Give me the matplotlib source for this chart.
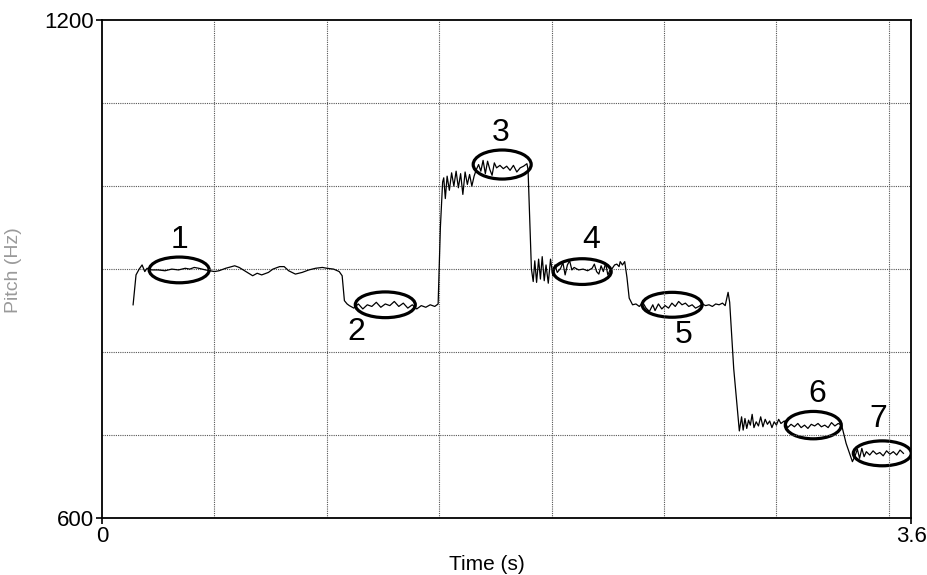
import matplotlib
matplotlib.use("Agg")
import matplotlib.pyplot as plt
from matplotlib.patches import Ellipse

plt.rcParams['font.family'] = ['Liberation Sans', 'DejaVu Sans']

# pitch track (time in s, pitch in Hz)
time = [0.138, 0.151, 0.165, 0.178, 0.19, 0.20, 0.22, 0.25, 0.28, 0.31, 0.34, 0.37, 0.39, 0.41, 0.43,
        0.46, 0.48, 0.50, 0.52, 0.55, 0.59, 0.61, 0.64, 0.67, 0.69, 0.71, 0.74, 0.76, 0.79, 0.81,
        0.83, 0.86, 0.89, 0.92, 0.95, 0.98, 1.00, 1.03, 1.055, 1.068, 1.078, 1.09,
        1.10, 1.12, 1.14, 1.16, 1.18, 1.20, 1.22, 1.24, 1.26, 1.28, 1.30, 1.32, 1.34, 1.36, 1.38,
        1.40, 1.42, 1.44, 1.46, 1.48, 1.495,
        1.505, 1.515, 1.52, 1.527, 1.535, 1.545, 1.555, 1.565, 1.575, 1.585, 1.595, 1.605, 1.615,
        1.625, 1.635, 1.645, 1.655,
        1.665, 1.675, 1.685, 1.695, 1.705, 1.715, 1.725, 1.735, 1.745, 1.755, 1.77, 1.785, 1.80,
        1.815, 1.83, 1.845, 1.86, 1.875, 1.89,
        1.895, 1.91, 1.918, 1.925, 1.933, 1.942, 1.950, 1.958, 1.967, 1.975, 1.985, 1.995, 2.005,
        2.015, 2.025,
        2.04, 2.05, 2.06, 2.07, 2.08, 2.09, 2.10, 2.12, 2.14, 2.16, 2.18, 2.19, 2.20, 2.21, 2.22,
        2.23, 2.24, 2.25, 2.26, 2.27, 2.28, 2.29, 2.30, 2.305, 2.315, 2.325, 2.335,
        2.345, 2.36,
        2.375, 2.39, 2.405, 2.42, 2.435, 2.45, 2.46, 2.475, 2.49, 2.505, 2.52, 2.535, 2.55, 2.565,
        2.58, 2.595, 2.61, 2.625, 2.64, 2.655, 2.67, 2.685, 2.70, 2.715, 2.73, 2.745, 2.76, 2.772,
        2.785, 2.792,
        2.81, 2.835,
        2.845, 2.852, 2.86, 2.868, 2.876, 2.884, 2.892, 2.90, 2.91, 2.92, 2.93, 2.94, 2.95, 2.96,
        2.97, 2.98, 2.99, 3.00, 3.01, 3.02,
        3.035, 3.05, 3.065, 3.08, 3.095, 3.11, 3.125, 3.14, 3.155, 3.17, 3.185, 3.20, 3.215, 3.23,
        3.245, 3.26, 3.275, 3.29,
        3.31, 3.338, 3.35, 3.36, 3.37,
        3.38, 3.39, 3.40, 3.415, 3.43, 3.445, 3.46, 3.475, 3.49, 3.505, 3.52, 3.535, 3.55, 3.565]
pitch = [857, 893, 900, 905, 897, 901, 899, 899, 898, 900, 899, 901, 900, 902, 901,
         899, 898, 897, 898, 901, 904, 902, 897, 892, 895, 893, 896, 900, 903, 903,
         898, 894, 896, 899, 901, 902, 901, 900, 897, 892, 862, 858,
         856, 853, 858, 852, 857, 855, 860, 854, 858, 856, 861, 855, 859, 853, 857,
         852, 856, 854, 857, 855, 858,
         950, 1005, 1010, 985, 1012, 995, 1016, 1000, 1018, 998, 1015, 990, 1017,
         1002, 1014, 1000, 1012,
         1020, 1026, 1018, 1031, 1015, 1030, 1020, 1013, 1028, 1022, 1025, 1021, 1024,
         1019, 1025, 1017, 1022, 1024, 1027,
         1020, 900, 885, 910, 884, 912, 888, 915, 886, 905, 883, 912, 892,
         905, 896,
         901, 908, 893, 905, 910, 899, 902, 899, 900, 898, 901, 906, 897, 894, 904,
         897, 907, 893, 899, 901, 905, 906, 903, 909, 905, 909, 890,
         865, 857,
         858, 855, 860, 853, 849, 857, 850, 858, 852, 856, 853, 859, 855, 861,
         857, 859, 855, 857, 853, 855, 858, 856, 857, 855, 858, 857, 859, 856,
         872, 860,
         780, 705,
         722, 706, 720, 708, 718, 712, 725, 709, 716, 711, 722, 710, 719, 713,
         717, 709, 716, 712, 719, 714,
         717, 709, 713, 710, 714, 709, 712, 708, 713, 711, 714, 710, 712, 709,
         715, 711, 714, 712,
         690, 668, 675, 683, 672,
         684, 674, 680, 676, 681, 677, 679, 675, 681, 677, 680, 676, 682, 678]

# marked regions: label, centre time, centre pitch, width (s), height (Hz)
marks = ['1', '2', '3', '4', '5', '6', '7']
mark_t = [0.343, 1.260, 1.780, 2.136, 2.536, 3.164, 3.471]
mark_f = [899, 857, 1026, 897, 857, 712, 678]
mark_w = [0.267, 0.267, 0.258, 0.258, 0.267, 0.249, 0.258]
mark_h = [31, 31, 35, 31, 30, 33, 30]
label_t = [0.343, 1.130, 1.771, 2.176, 2.586, 3.182, 3.453]
label_f = [935, 824, 1064, 935, 820, 749, 719]

x_grid = [0.5, 1.0, 1.5, 2.0, 2.5, 3.0, 3.5]
y_grid = [700, 800, 900, 1000, 1100]

fig = plt.figure(figsize=(9.28, 5.75), dpi=100)
ax = fig.add_axes([0.110, 0.099, 0.872, 0.866])

ax.plot(time, pitch, color='black', lw=0.9)

for i in range(len(marks)):
    e = Ellipse((mark_t[i], mark_f[i]), mark_w[i], mark_h[i], fill=False,
                edgecolor='black', lw=2.3)
    ax.add_patch(e)
    ax.text(label_t[i], label_f[i], marks[i], fontsize=23, ha='center', va='center')

ax.set_xlim(0, 3.6)
ax.set_ylim(600, 1200)
ax.set_xticks([0, 3.6])
ax.set_xticklabels(['0', '3.6'])
ax.set_yticks([600, 1200])
ax.set_yticklabels(['600', '1200'])
ax.set_xticks(x_grid, minor=True)
ax.set_yticks(y_grid, minor=True)
ax.grid(which='minor', color='#555555', linestyle=(0, (1, 1)), lw=0.8)
ax.tick_params(which='minor', length=0)
ax.tick_params(which='major', length=4, width=1.2, direction='out', labelsize=16, pad=2)

for s in ax.spines.values():
    s.set_linewidth(1.3)

ax.set_xlabel('Time (s)', fontsize=15)
ax.xaxis.set_label_coords(0.476, -0.075)
ax.set_ylabel('Pitch (Hz)', fontsize=14, color='#9a9a9a')
ax.yaxis.set_label_coords(-0.099, 0.498)

fig.savefig('out.png', dpi=100)
